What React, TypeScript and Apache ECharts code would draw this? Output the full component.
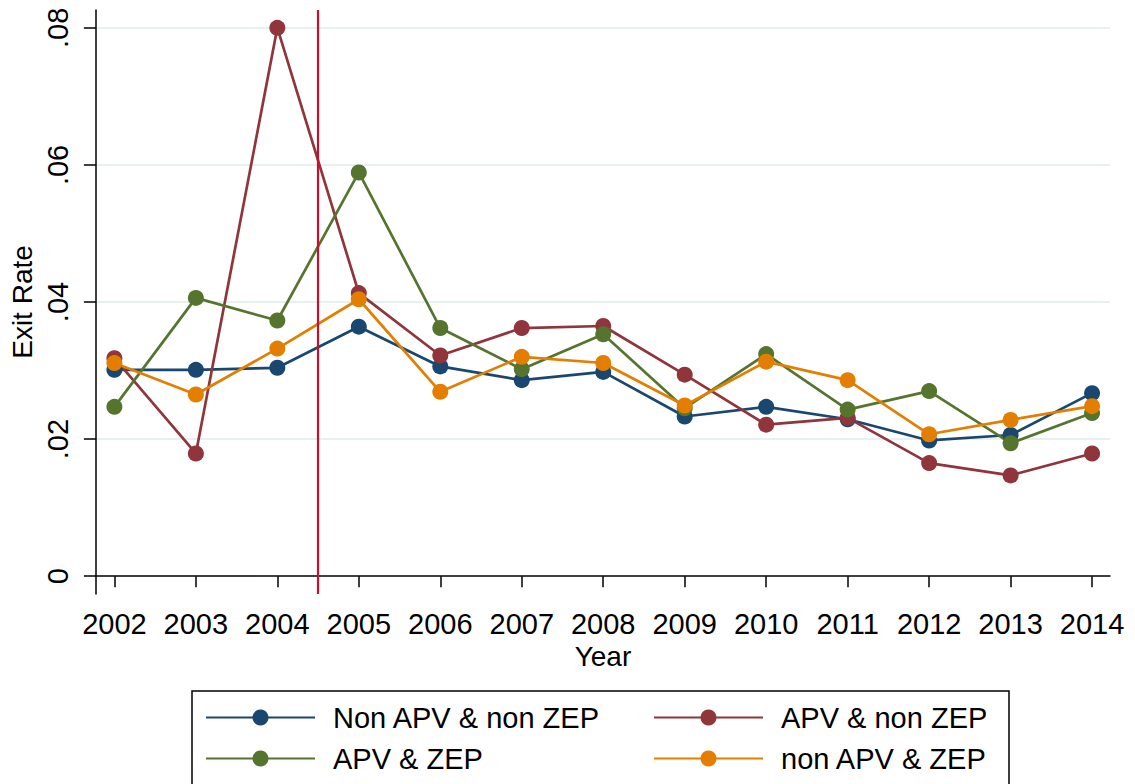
import React, { useEffect, useRef } from 'react';
import * as echarts from 'echarts';

const years = [2002, 2003, 2004, 2005, 2006, 2007, 2008, 2009, 2010, 2011, 2012, 2013, 2014];
const nonApvNonZep = [0.0301, 0.0301, 0.0304, 0.0364, 0.0306, 0.0286, 0.0298, 0.0233, 0.0247, 0.0229, 0.0198, 0.0206, 0.0267];
const apvNonZep = [0.0318, 0.0179, 0.0800, 0.0413, 0.0322, 0.0362, 0.0365, 0.0294, 0.0221, 0.0231, 0.0165, 0.0147, 0.0179];
const apvZep = [0.0247, 0.0406, 0.0373, 0.0589, 0.0362, 0.0302, 0.0353, 0.0245, 0.0324, 0.0243, 0.0270, 0.0194, 0.0238];
const nonApvZep = [0.0311, 0.0265, 0.0332, 0.0404, 0.0269, 0.0320, 0.0311, 0.0249, 0.0313, 0.0286, 0.0207, 0.0228, 0.0248];
const yTicks = [0, 0.02, 0.04, 0.06, 0.08];
const policyYear = 2004.5;

const seriesNames = ['Non APV & non ZEP', 'APV & non ZEP', 'APV & ZEP', 'non APV & ZEP'];
const seriesData = [nonApvNonZep, apvNonZep, apvZep, nonApvZep];
const seriesColors = ['#1a476f', '#90353b', '#55752f', '#e37e00'];

const FONT = '"Liberation Sans", Arial, Helvetica, sans-serif';

export default function App() {
  const ref = useRef<HTMLDivElement>(null);
  useEffect(() => {
    if (!ref.current) return;
    const chart = echarts.init(ref.current, undefined, { renderer: 'svg' });
    const legendPos = [
      { left: 205, top: 703 },
      { left: 653, top: 703 },
      { left: 205, top: 744 },
      { left: 653, top: 744 },
    ];
    const option: any = {
      animation: false,
      backgroundColor: '#ffffff',
      textStyle: { fontFamily: FONT },
      grid: { left: 92, top: 10, right: 25, bottom: 190, containLabel: false },
      xAxis: {
        type: 'value',
        min: 2001.773,
        max: 2014.22,
        name: 'Year',
        nameLocation: 'middle',
        nameGap: 48,
        nameTextStyle: { fontSize: 28, color: '#000', fontFamily: FONT },
        axisLine: { show: true, lineStyle: { color: '#000', width: 1.5 } },
        axisTick: { show: true, length: 11, customValues: years, lineStyle: { color: '#000', width: 1.5 } },
        axisLabel: {
          customValues: years,
          fontSize: 29,
          color: '#000',
          fontFamily: FONT,
          margin: 15,
          formatter: (v: number) => String(Math.round(v)),
        },
        splitLine: { show: false },
      },
      yAxis: {
        type: 'value',
        min: -0.0026,
        max: 0.0826,
        name: 'Exit Rate',
        nameLocation: 'middle',
        nameRotate: 90,
        nameGap: 55,
        nameTextStyle: { fontSize: 28, color: '#000', fontFamily: FONT },
        axisLine: { show: true, lineStyle: { color: '#000', width: 1.5 } },
        axisTick: { show: true, length: 12, customValues: yTicks, lineStyle: { color: '#000', width: 1.5 } },
        axisLabel: {
          customValues: yTicks,
          rotate: 90,
          fontSize: 29,
          color: '#000',
          fontFamily: FONT,
          margin: 23,
          formatter: (v: number) => (Math.abs(v) < 1e-9 ? '0' : v.toFixed(2).replace(/^0/, '')),
        },
        splitLine: {
          show: true,
          lineStyle: { color: ['rgba(0,0,0,0)', '#e8f0f2', '#e8f0f2', '#e8f0f2', '#e8f0f2'], width: 2 },
        },
      },
      legend: seriesNames.map((n, i) => ({
        data: [n],
        left: legendPos[i].left,
        top: legendPos[i].top,
        orient: 'horizontal',
        padding: 0,
        itemWidth: 109,
        itemHeight: 20,
        selectedMode: false,
        textStyle: { fontSize: 29, color: '#000', fontFamily: FONT, padding: [0, 0, 0, 13] },
      })),
      graphic: [
        {
          type: 'rect',
          shape: { x: 192, y: 691, width: 817, height: 140 },
          style: { fill: 'none', stroke: '#000', lineWidth: 1.5 },
          silent: true,
        },
      ],
      series: seriesNames.map((n, i) => ({
        name: n,
        type: 'line',
        data: years.map((y, j) => [y, seriesData[i][j]]),
        symbol: 'circle',
        symbolSize: 16,
        color: seriesColors[i],
        lineStyle: { color: seriesColors[i], width: 2.7 },
        itemStyle: { color: seriesColors[i] },
        emphasis: { disabled: true },
        markLine:
          i === 0
            ? {
                silent: true,
                symbol: 'none',
                label: { show: false },
                lineStyle: { color: '#c8102e', width: 2.2, type: 'solid' },
                data: [{ xAxis: policyYear }],
              }
            : undefined,
      })),
    };
    chart.setOption(option);
    return () => chart.dispose();
  }, []);
  return <div ref={ref} style={{ position: 'absolute', left: 0, top: 0, width: 1135, height: 784 }} />;
}
